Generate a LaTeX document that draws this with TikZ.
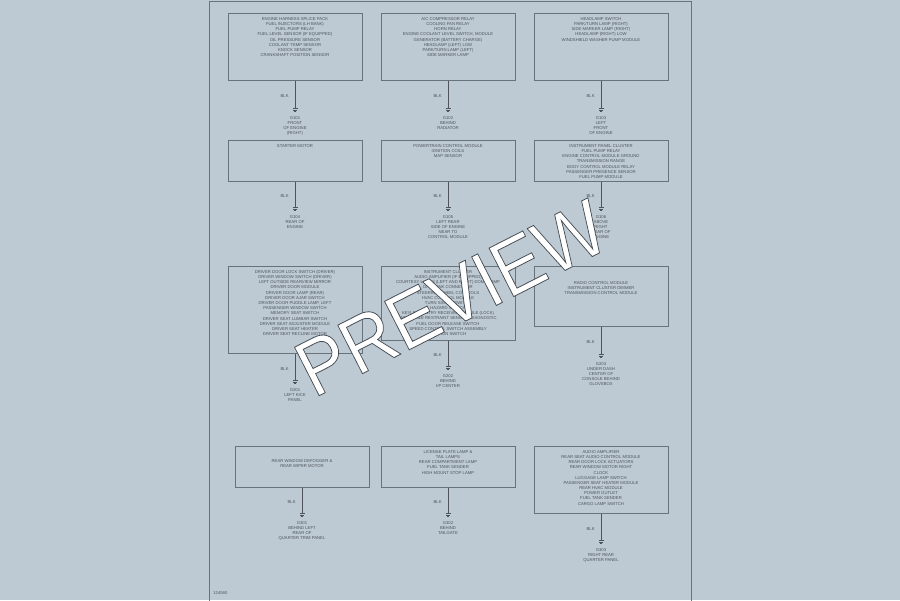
\documentclass[tikz,border=0pt]{standalone}
\usepackage{fontspec}
\setmainfont{Liberation Sans}
\usepackage{tikz}
\definecolor{pagebg}{RGB}{189,201,211}
\definecolor{boxgray}{RGB}{104,114,122}
\definecolor{inkgray}{RGB}{78,84,90}
\def\tinyfont{\fontsize{2.4}{2.95}\selectfont}
\def\outlineon{\special{pdf:literal direct 2 Tr 0.45 w 0.27 0.3 0.32 RG}}
\def\outlineoff{\special{pdf:literal direct 0 Tr}}
\tikzset{
  module/.style={draw=boxgray, line width=0.45pt, minimum width=2.68cm, anchor=north, inner sep=0pt},
  modtext/.style={anchor=north, align=center, font=\tinyfont, text=inkgray, inner sep=0pt},
  wire/.style={draw=inkgray, line width=0.4pt},
  wirecolor/.style={left=0.12cm, pos=0.55, font=\tinyfont, text=inkgray, inner sep=0pt},
  gndtext/.style={anchor=north, align=center, font=\tinyfont, text=inkgray, inner sep=0pt},
  gnd/.pic={\draw[inkgray, line width=0.35pt] (-2.5,0) -- (2.5,0) (-1.6,1.5) -- (1.6,1.5) (-0.7,3) -- (0.7,3);}
}

\begin{document}
\begin{tikzpicture}[x=0.02cm, y=-0.02cm]
\useasboundingbox[fill=pagebg] (0,0) rectangle (900,600);
\draw[boxgray, line width=0.5pt] (209,601) -- (209,1) -- (691,1) -- (691,601);

% row 1
\node[module, minimum height=1.34cm] (engL) at (295,13) {};
\node[modtext] (engLt) at ([yshift=-0.08cm]engL.north) {ENGINE HARNESS SPLICE PACK\\FUEL INJECTORS (LH BANK)\\FUEL PUMP RELAY\\FUEL LEVEL SENSOR (IF EQUIPPED)\\OIL PRESSURE SENSOR\\COOLANT TEMP SENSOR\\KNOCK SENSOR\\CRANKSHAFT POSITION SENSOR};
\coordinate (engLg) at ([yshift=-0.56cm]engL.south);
\draw[wire] (engL.south) -- node[wirecolor] {BLK} (engLg);
\pic at (engLg) {gnd};
\node[gndtext] (engLn) at ([yshift=-0.14cm]engLg) {G101\\FRONT\\OF ENGINE\\(RIGHT)};

\node[module, minimum height=1.34cm] (fwdL) at (448,13) {};
\node[modtext] (fwdLt) at ([yshift=-0.08cm]fwdL.north) {A/C COMPRESSOR RELAY\\COOLING FAN RELAY\\HORN RELAY\\ENGINE COOLANT LEVEL SWITCH, MODULE\\GENERATOR (BATTERY CHARGE)\\HEADLAMP (LEFT) LOW\\PARK/TURN LAMP (LEFT)\\SIDE MARKER LAMP};
\coordinate (fwdLg) at ([yshift=-0.56cm]fwdL.south);
\draw[wire] (fwdL.south) -- node[wirecolor] {BLK} (fwdLg);
\pic at (fwdLg) {gnd};
\node[gndtext] (fwdLn) at ([yshift=-0.14cm]fwdLg) {G102\\BEHIND\\RADIATOR};

\node[module, minimum height=1.34cm] (fwdR) at (601,13) {};
\node[modtext] (fwdRt) at ([yshift=-0.08cm]fwdR.north) {HEADLAMP SWITCH\\PARK/TURN LAMP (RIGHT)\\SIDE MARKER LAMP (RIGHT)\\HEADLAMP (RIGHT) LOW\\WINDSHIELD WASHER PUMP MODULE};
\coordinate (fwdRg) at ([yshift=-0.56cm]fwdR.south);
\draw[wire] (fwdR.south) -- node[wirecolor] {BLK} (fwdRg);
\pic at (fwdRg) {gnd};
\node[gndtext] (fwdRn) at ([yshift=-0.14cm]fwdRg) {G103\\LEFT\\FRONT\\OF ENGINE};

% row 2
\node[module, minimum height=0.82cm] (start) at (295,140) {};
\node[modtext] (startt) at ([yshift=-0.08cm]start.north) {STARTER MOTOR};
\coordinate (startg) at ([yshift=-0.52cm]start.south);
\draw[wire] (start.south) -- node[wirecolor] {BLK} (startg);
\pic at (startg) {gnd};
\node[gndtext] (startn) at ([yshift=-0.14cm]startg) {G104\\REAR OF\\ENGINE};

\node[module, minimum height=0.82cm] (pcm) at (448,140) {};
\node[modtext] (pcmt) at ([yshift=-0.08cm]pcm.north) {POWERTRAIN CONTROL MODULE\\IGNITION COILS\\MAP SENSOR};
\coordinate (pcmg) at ([yshift=-0.52cm]pcm.south);
\draw[wire] (pcm.south) -- node[wirecolor] {BLK} (pcmg);
\pic at (pcmg) {gnd};
\node[gndtext] (pcmn) at ([yshift=-0.14cm]pcmg) {G105\\LEFT REAR\\SIDE OF ENGINE\\NEAR TO\\CONTROL MODULE};

\node[module, minimum height=0.82cm] (ipc) at (601,140) {};
\node[modtext] (ipct) at ([yshift=-0.08cm]ipc.north) {INSTRUMENT PANEL CLUSTER\\FUEL PUMP RELAY\\ENGINE CONTROL MODULE GROUND\\TRANSMISSION RANGE\\BODY CONTROL MODULE RELAY\\PASSENGER PRESENCE SENSOR\\FUEL PUMP MODULE};
\coordinate (ipcg) at ([yshift=-0.52cm]ipc.south);
\draw[wire] (ipc.south) -- node[wirecolor] {BLK} (ipcg);
\pic at (ipcg) {gnd};
\node[gndtext] (ipcn) at ([yshift=-0.14cm]ipcg) {G106\\ABOVE\\RIGHT\\REAR OF\\ENGINE};

% row 3
\node[module, minimum height=1.74cm] (door) at (295,266) {};
\node[modtext] (doort) at ([yshift=-0.08cm]door.north) {DRIVER DOOR LOCK SWITCH (DRIVER)\\DRIVER WINDOW SWITCH (DRIVER)\\LEFT OUTSIDE REARVIEW MIRROR\\DRIVER DOOR MODULE\\DRIVER DOOR LAMP (REAR)\\DRIVER DOOR AJAR SWITCH\\DRIVER DOOR PUDDLE LAMP, LEFT\\PASSENGER WINDOW SWITCH\\MEMORY SEAT SWITCH\\DRIVER SEAT LUMBAR SWITCH\\DRIVER SEAT ADJUSTER MODULE\\DRIVER SEAT HEATER\\DRIVER SEAT RECLINE MOTOR};
\coordinate (doorg) at ([yshift=-0.54cm]door.south);
\draw[wire] (door.south) -- node[wirecolor] {BLK} (doorg);
\pic at (doorg) {gnd};
\node[gndtext] (doorn) at ([yshift=-0.14cm]doorg) {G201\\LEFT KICK\\PANEL};

\node[module, minimum height=1.48cm] (dash) at (448,266) {};
\node[modtext] (dasht) at ([yshift=-0.08cm]dash.north) {INSTRUMENT CLUSTER\\AUDIO AMPLIFIER (IF EQUIPPED)\\COURTESY LAMPS (LEFT AND RIGHT) DOME LAMP\\DATA LINK CONNECTOR\\STEERING WHEEL CONTROLS\\HVAC CONTROL MODULE\\TURN SIGNAL SWITCH\\HAZARD SWITCH\\KEYLESS ENTRY RECEIVER MODULE (LOCK)\\INFLATABLE RESTRAINT SENSING DIAGNOSTIC\\FUEL DOOR RELEASE SWITCH\\SPEED CONTROL SWITCH ASSEMBLY\\IGNITION SWITCH};
\coordinate (dashg) at ([yshift=-0.52cm]dash.south);
\draw[wire] (dash.south) -- node[wirecolor] {BLK} (dashg);
\pic at (dashg) {gnd};
\node[gndtext] (dashn) at ([yshift=-0.14cm]dashg) {G202\\BEHIND\\I/P CENTER};

\node[module, minimum height=1.2cm] (radio) at (601,266) {};
\node[modtext] (radiot) at ([yshift=-0.3cm]radio.north) {RADIO CONTROL MODULE\\INSTRUMENT CLUSTER DIMMER\\TRANSMISSION CONTROL MODULE};
\coordinate (radiog) at ([yshift=-0.56cm]radio.south);
\draw[wire] (radio.south) -- node[wirecolor] {BLK} (radiog);
\pic at (radiog) {gnd};
\node[gndtext] (radion) at ([yshift=-0.14cm]radiog) {G203\\UNDER DASH\\CENTER OF\\CONSOLE BEHIND\\GLOVEBOX};

% row 4
\node[module, minimum height=0.82cm] (defog) at (302,446) {};
\node[modtext] (defogt) at ([yshift=-0.26cm]defog.north) {REAR WINDOW DEFOGGER \&\\REAR WIPER MOTOR};
\coordinate (defogg) at ([yshift=-0.52cm]defog.south);
\draw[wire] (defog.south) -- node[wirecolor] {BLK} (defogg);
\pic at (defogg) {gnd};
\node[gndtext] (defogn) at ([yshift=-0.14cm]defogg) {G301\\BEHIND LEFT\\REAR OF\\QUARTER TRIM PANEL};

\node[module, minimum height=0.82cm] (tail) at (448,446) {};
\node[modtext] (tailt) at ([yshift=-0.08cm]tail.north) {LICENSE PLATE LAMP \&\\TAIL LAMPS\\REAR COMPARTMENT LAMP\\FUEL TANK SENDER\\HIGH MOUNT STOP LAMP};
\coordinate (tailg) at ([yshift=-0.52cm]tail.south);
\draw[wire] (tail.south) -- node[wirecolor] {BLK} (tailg);
\pic at (tailg) {gnd};
\node[gndtext] (tailn) at ([yshift=-0.14cm]tailg) {G302\\BEHIND\\TAILGATE};

\node[module, minimum height=1.34cm] (rear) at (601,446) {};
\node[modtext] (reart) at ([yshift=-0.08cm]rear.north) {AUDIO AMPLIFIER\\REAR SEAT AUDIO CONTROL MODULE\\REAR DOOR LOCK ACTUATORS\\REAR WINDOW MOTOR RIGHT\\CLOCK\\LUGGAGE LAMP SWITCH\\PASSENGER SEAT HEATER MODULE\\REAR HVAC MODULE\\POWER OUTLET\\FUEL TANK SENDER\\CARGO LAMP SWITCH};
\coordinate (rearg) at ([yshift=-0.54cm]rear.south);
\draw[wire] (rear.south) -- node[wirecolor] {BLK} (rearg);
\pic at (rearg) {gnd};
\node[gndtext] (rearn) at ([yshift=-0.14cm]rearg) {G303\\RIGHT REAR\\QUARTER PANEL};

\node[anchor=west, font=\tinyfont, text=inkgray, inner sep=0pt] (figid) at (213,593) {124580};

% watermark
\node[rotate=27, xscale=0.92, text=white, font=\fontsize{45}{45}\selectfont, inner sep=0pt] (stamp) at (451,298) {\outlineon PREVIEW\outlineoff};
\end{tikzpicture}
\end{document}
